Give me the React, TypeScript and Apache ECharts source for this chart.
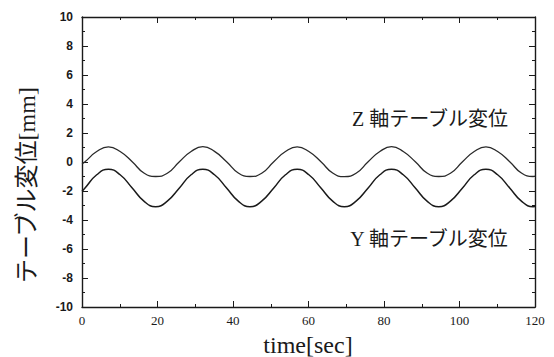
import React, { useEffect, useRef } from "react";
import * as echarts from "echarts";

// time samples [sec]
const times = [
  0, 0.8, 3.9, 7, 10.1, 13.3, 16.4, 19.5, 22.6, 25.8, 28.9, 32, 35.1, 38.3, 41.4, 44.5,
  47.6, 50.8, 53.9, 57, 60.1, 63.3, 66.4, 69.5, 72.6, 75.8, 78.9, 82, 85.1, 88.3, 91.4,
  94.5, 97.6, 100.8, 103.9, 107, 110.1, 113.3, 116.4, 119.5, 120,
];

// Z axis table displacement [mm]
const zDisp = [
  -0.12, 0.02, 0.72,
  1.05, 0.72, 0.02, -0.76, -1.0, -0.78, 0.02, 0.72,
  1.06, 0.73, 0.02, -0.76, -1.0, -0.78, 0.02, 0.72,
  1.05, 0.72, 0.02, -0.76, -1.01, -0.78, 0.02, 0.72,
  1.06, 0.72, 0.02, -0.76, -1.0, -0.78, 0.02, 0.72,
  1.05, 0.72, 0.02, -0.76, -1.0,
  -0.97,
];

// Y axis table displacement [mm]
const yDisp = [
  -2.02, -1.79, -0.88,
  -0.5, -0.88, -1.79, -2.7, -3.08, -2.7, -1.79, -0.88,
  -0.5, -0.88, -1.79, -2.7, -3.08, -2.7, -1.79, -0.88,
  -0.5, -0.88, -1.79, -2.7, -3.08, -2.7, -1.79, -0.88,
  -0.5, -0.88, -1.79, -2.7, -3.08, -2.7, -1.79, -0.88,
  -0.5, -0.88, -1.79, -2.7, -3.08,
  -3.07,
];

const xTicks = { min: 0, max: 120, interval: 20 };
const yTicks = { min: -10, max: 10, interval: 2 };

const serif = '"Liberation Serif", "DejaVu Serif", "Noto Sans CJK JP", serif';
const ink = "#1a1a1a";

export default function App() {
  const ref = useRef<HTMLDivElement>(null);
  useEffect(() => {
    if (!ref.current) return;
    const chart = echarts.init(ref.current, undefined, { renderer: "svg" });
    const axisLine = { show: true, onZero: false, lineStyle: { color: ink, width: 1.4 } };
    const tick = { show: true, inside: true, length: 6, lineStyle: { color: ink, width: 1 } };
    const minor = { show: true, splitNumber: 2, length: 3, lineStyle: { color: ink, width: 1 } };
    const zData = times.map((t, i) => [t, zDisp[i]]);
    const yData = times.map((t, i) => [t, yDisp[i]]);
    chart.setOption({
      animation: false,
      backgroundColor: "#fff",
      grid: { left: 82, right: 19, top: 17, bottom: 50 },
      xAxis: [
        {
          type: "value",
          ...xTicks,
          position: "bottom",
          axisLine,
          axisTick: tick,
          minorTick: minor,
          splitLine: { show: false },
          axisLabel: { color: ink, fontFamily: serif, fontSize: 13, margin: 7 },
        },
        {
          type: "value",
          ...xTicks,
          position: "top",
          axisLine,
          axisTick: tick,
          minorTick: minor,
          splitLine: { show: false },
          axisLabel: { show: false },
        },
      ],
      yAxis: [
        {
          type: "value",
          ...yTicks,
          position: "left",
          axisLine,
          axisTick: tick,
          minorTick: minor,
          splitLine: { show: false },
          axisLabel: {
            color: ink,
            fontFamily: '"Liberation Sans", Arial, sans-serif',
            fontWeight: "bold",
            fontSize: 12,
            margin: 9,
          },
        },
        {
          type: "value",
          ...yTicks,
          position: "right",
          axisLine,
          axisTick: tick,
          minorTick: minor,
          splitLine: { show: false },
          axisLabel: { show: false },
        },
      ],
      series: [
        {
          name: "Z軸テーブル変位",
          type: "line",
          data: zData,
          smooth: 0.5,
          showSymbol: false,
          lineStyle: { color: "#2a2a2a", width: 1.3 },
        },
        {
          name: "Y軸テーブル変位",
          type: "line",
          data: yData,
          smooth: 0.5,
          showSymbol: false,
          lineStyle: { color: "#1a1a1a", width: 1.5 },
        },
      ],
      graphic: [
        {
          type: "text",
          x: 27,
          y: 185,
          rotation: Math.PI / 2,
          style: {
            text: "テーブル変位[mm]",
            fill: ink,
            font: `24px ${serif}`,
            align: "center",
            verticalAlign: "middle",
          },
        },
        {
          type: "text",
          x: 308,
          y: 345,
          style: {
            text: "time[sec]",
            fill: ink,
            font: `24px ${serif}`,
            align: "center",
            verticalAlign: "middle",
          },
        },
        {
          type: "text",
          x: 430,
          y: 119,
          style: {
            text: "Z 軸テーブル変位",
            fill: ink,
            font: `20px ${serif}`,
            align: "center",
            verticalAlign: "middle",
          },
        },
        {
          type: "text",
          x: 429,
          y: 239,
          style: {
            text: "Y 軸テーブル変位",
            fill: ink,
            font: `20px ${serif}`,
            align: "center",
            verticalAlign: "middle",
          },
        },
      ],
    });
    return () => chart.dispose();
  }, []);
  return <div ref={ref} style={{ width: 554, height: 357, position: "absolute", left: 0, top: 0 }} />;
}
